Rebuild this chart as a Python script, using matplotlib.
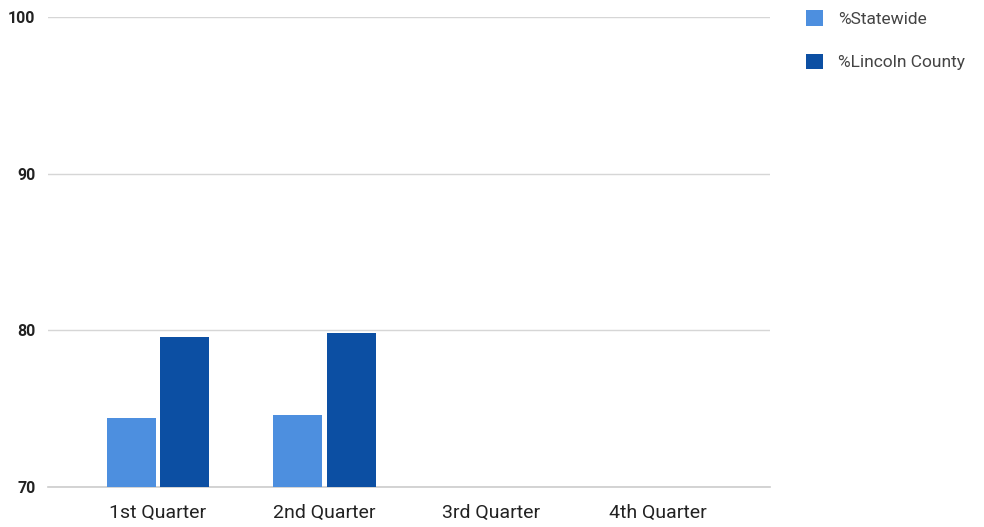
import numpy as np
import matplotlib.pyplot as plt

plt.rcParams['font.family'] = ['Roboto', 'DejaVu Sans']

quarters = ['1st Quarter', '2nd Quarter', '3rd Quarter', '4th Quarter']
statewide = [74.4, 74.6, np.nan, np.nan]
lincoln = [79.6, 79.8, np.nan, np.nan]
y_ticks = [70, 80, 90, 100]

fig = plt.figure(figsize=(9.84, 5.27), dpi=100)
ax = fig.add_axes([48 / 984, 1 - 487 / 527, 722 / 984, 470 / 527])

x = np.arange(len(quarters))
w = 0.294
off = 0.161
ax.bar(x - off, np.array(statewide) - 70, w, bottom=70, color='#4d8fdf',
       label='%Statewide', zorder=3)
ax.bar(x + off, np.array(lincoln) - 70, w, bottom=70, color='#0c4fa3',
       label='%Lincoln County', zorder=3)

ax.set_ylim(70, 100)
ax.set_xlim(-0.66, 3.676)
ax.set_yticks(y_ticks)
ax.set_yticklabels([str(t) for t in y_ticks], fontsize=11.5, fontweight='bold',
                   color='#222222')
ax.set_xticks(x)
ax.set_xticklabels(quarters, fontsize=14, color='#222222')
ax.tick_params(axis='both', length=0)
ax.tick_params(axis='y', pad=9)
ax.tick_params(axis='x', pad=12)
ax.grid(axis='y', color='#d6d6d6', linewidth=1, zorder=0)
ax.axhline(70, color='#cccccc', linewidth=1.2, zorder=1, clip_on=False)
ax.set_axisbelow(True)
for s in ax.spines.values():
    s.set_visible(False)

fig.legend(loc='upper left', bbox_to_anchor=(806 / 984, 1 - 10 / 527),
           frameon=False, borderpad=0, borderaxespad=0,
           handlelength=1.0, handleheight=1.0,
           labelspacing=1.55, handletextpad=0.85, fontsize=12.5,
           labelcolor='#444444')

fig.savefig('out.png', dpi=100)
